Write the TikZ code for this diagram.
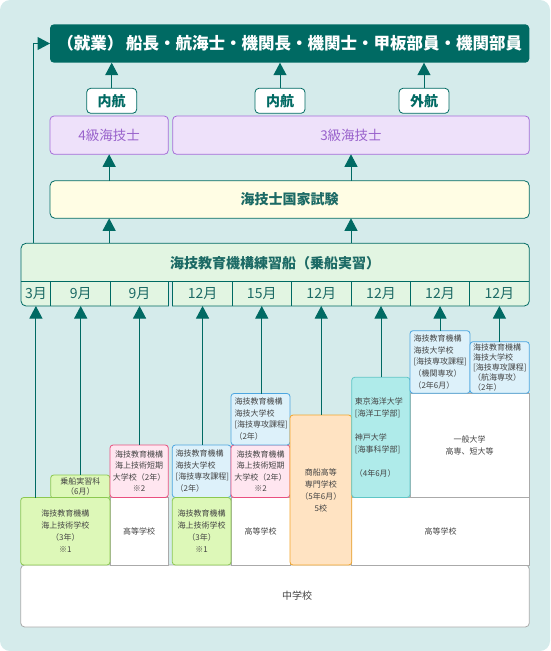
\documentclass[tikz,border=0pt]{standalone}
\usepackage{fontspec}
\setmainfont{Noto Sans CJK JP}
\usetikzlibrary{arrows.meta}

\definecolor{bgteal}{HTML}{D5EBEB}
\definecolor{darkteal}{HTML}{006A63}
\definecolor{titleteal}{HTML}{1C6A65}
\definecolor{examfill}{HTML}{FFFDE4}
\definecolor{trainfill}{HTML}{E2F5E2}
\definecolor{lilacfill}{HTML}{EEE1FA}
\definecolor{lilacline}{HTML}{A56DD8}
\definecolor{lilactext}{HTML}{9963CC}
\definecolor{greenfill}{HTML}{DDF8B8}
\definecolor{greenline}{HTML}{8CC850}
\definecolor{pinkfill}{HTML}{FFE6F0}
\definecolor{pinkline}{HTML}{E9507F}
\definecolor{bluefill}{HTML}{DDF1FA}
\definecolor{blueline}{HTML}{4DA6E0}
\definecolor{cyanfill}{HTML}{AFEBEA}
\definecolor{cyanline}{HTML}{5FC6C6}
\definecolor{orangefill}{HTML}{FFE3C2}
\definecolor{orangeline}{HTML}{F4A62A}
\definecolor{boxgray}{HTML}{AAAAAA}
\definecolor{smalltext}{HTML}{444444}

\begin{document}
\begin{tikzpicture}[
    x=1pt,y=-1pt,
    box/.style={
      anchor=north west,
      inner sep=0pt,
      outer sep=0pt,
      line width=0.8pt,
      align=center,
      text=smalltext,
      font=\fontsize{8}{11.5}\selectfont
    },
    whitebox/.style={box,draw=boxgray,fill=white},
    greenbox/.style={box,draw=greenline,fill=greenfill,rounded corners=3pt},
    pinkbox/.style={box,draw=pinkline,fill=pinkfill,rounded corners=3pt},
    bluebox/.style={box,draw=blueline,fill=bluefill,rounded corners=3pt,align=left},
    cyanbox/.style={box,draw=cyanline,fill=cyanfill,rounded corners=3pt,align=left},
    orangebox/.style={box,draw=orangeline,fill=orangefill,rounded corners=3pt},
    licbox/.style={box,draw=lilacline,fill=lilacfill,rounded corners=4pt,
      text=lilactext,font=\fontsize{13.5}{15}\selectfont},
    routebox/.style={box,draw=darkteal,fill=white,rounded corners=4pt,
      text=darkteal,font=\bfseries\fontsize{14}{16}\selectfont},
    bigbox/.style={box,draw=darkteal,rounded corners=5pt,
      text=titleteal,font=\bfseries\fontsize{14}{16}\selectfont},
    monthcell/.style={anchor=north west,inner sep=0pt,outer sep=0pt,
      minimum height=24.3pt,text=titleteal,font=\fontsize{14}{15}\selectfont},
    flowarrow/.style={-{Triangle[width=13pt,length=12.5pt]},line width=1pt,darkteal}
  ]
  \useasboundingbox (0,0) rectangle (550,651);
  \fill[bgteal,rounded corners=10pt] (0,0) rectangle (550,651);

  % goal and licences
  \node[box,fill=darkteal,rounded corners=4pt,minimum width=479.3pt,minimum height=38.4pt,
    text=white,font=\bfseries\fontsize{16.5}{18}\selectfont] (topbox) at (50,24.3)
    {（就業）\,船長・航海士・機関長・機関士・甲板部員・機関部員};
  \node[routebox,minimum width=50pt,minimum height=25pt] (naiko1) at (86.7,88.3) {内航};
  \node[routebox,minimum width=50pt,minimum height=25pt] (naiko2) at (255,88.3) {内航};
  \node[routebox,minimum width=50pt,minimum height=25pt] (gaiko) at (399,88.3) {外航};
  \node[licbox,minimum width=118.3pt,minimum height=38.3pt] (lic4) at (50,116) {4級海技士};
  \node[licbox,minimum width=356.6pt,minimum height=38.3pt] (lic3) at (172.7,116) {3級海技士};
  \node[bigbox,fill=examfill,minimum width=479.3pt,minimum height=37.6pt] (exam) at (50,180.7) {海技士国家試験};

  % training ship
  \node[bigbox,fill=trainfill,minimum width=508.3pt,minimum height=62.7pt] (trainship) at (21,243.3) {};
  \node[text=titleteal,font=\bfseries\fontsize{14}{16}\selectfont] (traintitle) at (275.2,263)
    {海技教育機構練習船（乗船実習）};
  \node[monthcell,minimum width=29.8pt] (m1) at (21,281.7) {3月};
  \node[monthcell,minimum width=59.8pt] (m2) at (50.8,281.7) {9月};
  \node[monthcell,minimum width=57.9pt] (m3) at (110.6,281.7) {9月};
  \node[monthcell,minimum width=59.9pt] (m4) at (172.6,281.7) {12月};
  \node[monthcell,minimum width=58.5pt] (m5) at (232.5,281.7) {15月};
  \node[monthcell,minimum width=60.5pt] (m6) at (291,281.7) {12月};
  \node[monthcell,minimum width=59pt] (m7) at (351.5,281.7) {12月};
  \node[monthcell,minimum width=59pt] (m8) at (410.5,281.7) {12月};
  \node[monthcell,minimum width=59.8pt] (m9) at (469.5,281.7) {12月};
  \fill[bgteal] (168.9,282.1) rectangle (172.2,307);
  \draw[darkteal,line width=0.8pt] (m1.north west) -- (m9.north east);
  \draw[darkteal,line width=0.8pt] (m1.north east) -- (m1.south east);
  \draw[darkteal,line width=0.8pt] (m2.north east) -- (m2.south east);
  \draw[darkteal,line width=0.8pt] (m3.north east) -- (m3.south east);
  \draw[darkteal,line width=0.8pt] (m4.north west) -- (m4.south west);
  \draw[darkteal,line width=0.8pt] (m4.north east) -- (m4.south east);
  \draw[darkteal,line width=0.8pt] (m5.north east) -- (m5.south east);
  \draw[darkteal,line width=0.8pt] (m6.north east) -- (m6.south east);
  \draw[darkteal,line width=0.8pt] (m7.north east) -- (m7.south east);
  \draw[darkteal,line width=0.8pt] (m8.north east) -- (m8.south east);

  % schools
  \node[whitebox,rounded corners=4pt,minimum width=508.6pt,minimum height=62pt,
    font=\fontsize{10}{12}\selectfont] (jhs) at (20.7,565) {\hspace*{44pt}中学校};
  \node[whitebox,minimum width=58.3pt,minimum height=67.5pt] (highA) at (110,497.5) {高等学校};
  \node[whitebox,minimum width=59pt,minimum height=67.5pt] (highB) at (231,497.5) {高等学校};
  \node[whitebox,minimum width=177.6pt,minimum height=67.5pt] (highC) at (351.7,497.5) {高等学校};
  \node[whitebox,minimum width=119.3pt,minimum height=104.2pt] (general) at (410,393.3)
    {一般大学\\高専、短大等};
  \node[greenbox,minimum width=59.3pt,minimum height=23.5pt,font=\fontsize{8}{10}\selectfont]
    (onboard) at (50.7,475) {乗船実習科\\（6月）};
  \node[greenbox,minimum width=89.3pt,minimum height=67.5pt,font=\fontsize{8}{12}\selectfont]
    (seaschoolA) at (20.7,497.5) {海技教育機構\\海上技術学校\\（3年）\\※1};
  \node[pinkbox,minimum width=58.3pt,minimum height=52.5pt] (juniorA) at (110,445)
    {海技教育機構\\海上技術短期\\大学校（2年）\\※2};
  \node[bluebox,minimum width=58.7pt,minimum height=52.5pt,text width=52pt] (tecuniA) at (172.3,445)
    {海技教育機構\\海技大学校\\{}[海技専攻課程]\\（2年）};
  \node[greenbox,minimum width=58.7pt,minimum height=67.5pt,font=\fontsize{8}{12}\selectfont]
    (seaschoolB) at (172.3,497.5) {海技教育機構\\海上技術学校\\（3年）\\※1};
  \node[pinkbox,minimum width=59pt,minimum height=52.5pt] (juniorB) at (231,445)
    {海技教育機構\\海上技術短期\\大学校（2年）\\※2};
  \node[bluebox,minimum width=59pt,minimum height=51.5pt,text width=52pt] (tecuniB) at (231,393.5)
    {海技教育機構\\海技大学校\\{}[海技専攻課程]\\（2年）};
  \node[orangebox,minimum width=61.7pt,minimum height=150pt,font=\fontsize{8}{12}\selectfont]
    (kosen) at (290,415) {商船高等\\専門学校\\（5年6月）\\5校};
  \node[cyanbox,minimum width=58.3pt,minimum height=120.2pt,text width=52pt,
    font=\fontsize{8}{12}\selectfont] (univ) at (351.7,377.3)
    {東京海洋大学\\{}[海洋工学部]\\[12pt]神戸大学\\{}[海事科学部]\\[12pt]（4年6月）\\[6pt]};
  \node[bluebox,minimum width=60pt,minimum height=62.6pt,text width=53pt,
    font=\fontsize{8}{11.7}\selectfont] (tecuniC) at (410,330.7)
    {海技教育機構\\海技大学校\\{}[海技専攻課程]\\（機関専攻）\\（2年6月）};
  \node[bluebox,minimum width=59.3pt,minimum height=51.6pt,text width=53pt,
    font=\fontsize{8}{10}\selectfont] (tecuniD) at (470,341.7)
    {海技教育機構\\海技大学校\\{}[海技専攻課程]\\（航海専攻）\\（2年）};

  % arrows
  \coordinate (riseL) at (33.7,243.3);
  \draw[flowarrow] (riseL) |- (topbox.west);
  \draw[flowarrow] (naiko1.north) -- (naiko1.north |- topbox.south);
  \draw[flowarrow] (naiko2.north) -- (naiko2.north |- topbox.south);
  \draw[flowarrow] (gaiko.north) -- (gaiko.north |- topbox.south);
  \draw[flowarrow] (lic4.south |- exam.north) -- (lic4.south);
  \draw[flowarrow] (lic3.south |- exam.north) -- (lic3.south);
  \draw[flowarrow] (lic4.south |- trainship.north) -- (lic4.south |- exam.south);
  \draw[flowarrow] (lic3.south |- trainship.north) -- (lic3.south |- exam.south);
  \draw[flowarrow] (m1.south |- seaschoolA.north) -- (m1.south);
  \draw[flowarrow] (m2.south |- onboard.north) -- (m2.south);
  \draw[flowarrow] (m3.south |- juniorA.north) -- (m3.south);
  \draw[flowarrow] (m4.south |- tecuniA.north) -- (m4.south);
  \draw[flowarrow] (m5.south |- tecuniB.north) -- (m5.south);
  \draw[flowarrow] (m6.south |- kosen.north) -- (m6.south);
  \draw[flowarrow] (m7.south |- univ.north) -- (m7.south);
  \draw[flowarrow] (m8.south |- tecuniC.north) -- (m8.south);
  \draw[flowarrow] (m9.south |- tecuniD.north) -- (m9.south);
\end{tikzpicture}
\end{document}
